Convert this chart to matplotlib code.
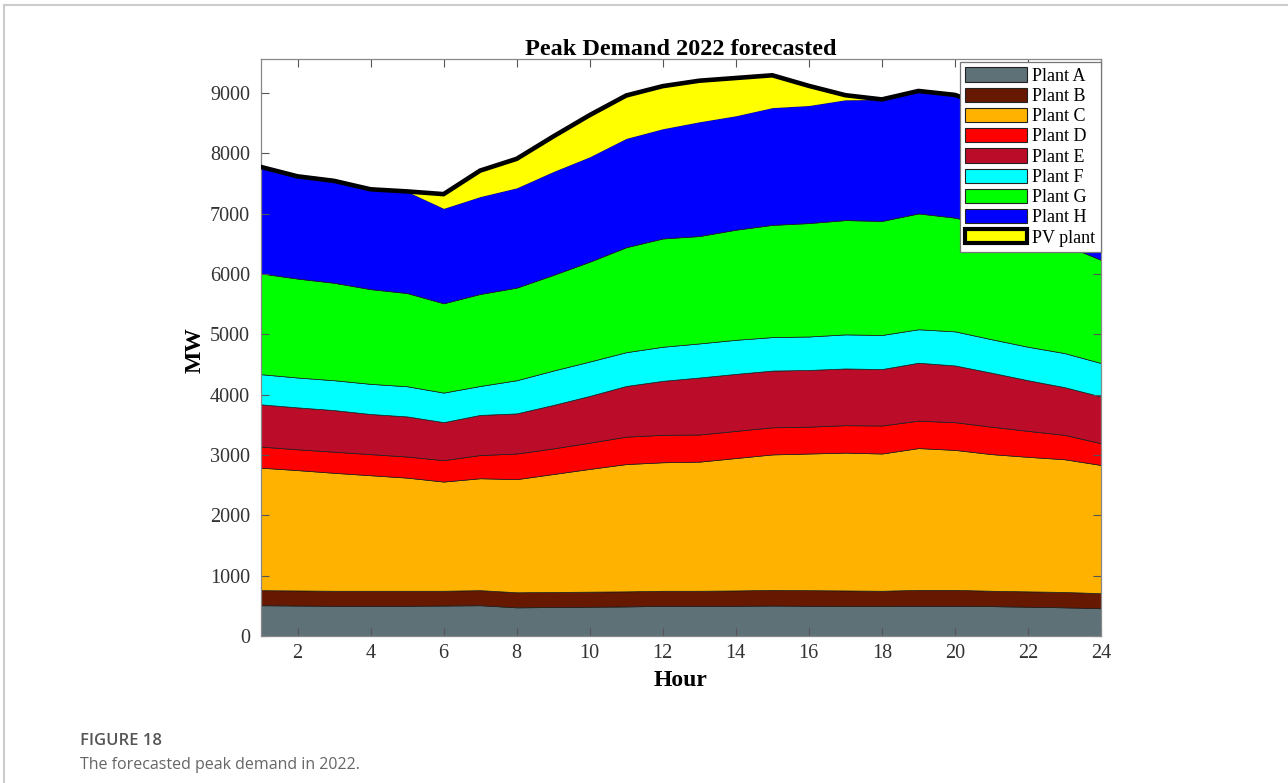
import matplotlib
matplotlib.use("Agg")
import matplotlib.pyplot as plt
from matplotlib.patches import Patch
from matplotlib.lines import Line2D
import numpy as np

hours = list(range(1, 25))
plant_a = [510,505,500,500,500,505,510,475,480,485,490,500,500,500,505,500,495,495,500,500,495,485,475,460]
plant_b = [250,250,250,250,250,245,250,250,250,250,250,250,250,255,260,260,260,255,265,265,255,255,255,250]
plant_c = [2030,1995,1955,1915,1875,1810,1855,1875,1955,2035,2110,2130,2140,2195,2245,2265,2285,2275,2350,2320,2265,2230,2200,2125]
plant_d = [350,345,350,350,350,355,385,425,425,435,455,455,450,450,450,445,455,465,455,460,455,430,405,360]
plant_e = [700,695,690,665,665,630,665,665,720,775,840,895,945,945,940,940,940,935,960,940,895,840,790,775]
plant_f = [500,495,495,500,500,490,480,550,570,570,560,565,565,565,555,555,565,565,555,565,555,555,565,555]
plant_g = [1670,1640,1615,1570,1545,1480,1525,1535,1585,1655,1740,1795,1780,1825,1860,1880,1895,1890,1920,1885,1880,1855,1795,1710]
plant_h = [1765,1695,1690,1655,1685,1575,1615,1655,1715,1740,1805,1820,1895,1890,1945,1950,1995,2015,2030,2035,1950,1800,1620,1470]
pv_plant = [0,0,0,0,0,235,430,480,580,690,710,705,680,625,535,325,75,0,0,0,0,0,0,0]

labels = ["Plant A", "Plant B", "Plant C", "Plant D", "Plant E", "Plant F", "Plant G", "Plant H", "PV plant"]
colors = ["#5e7176", "#661900", "#ffb300", "#ff0000", "#bb0d2a", "#00ffff", "#00ff00", "#0000ff", "#ffff00"]
series = [plant_a, plant_b, plant_c, plant_d, plant_e, plant_f, plant_g, plant_h, pv_plant]

plt.rcParams['font.family'] = ['Liberation Serif', 'DejaVu Serif']

fig = plt.figure(figsize=(12.88, 7.83), dpi=100)
ax = fig.add_axes([261/1288, 1 - 636/783, (1101-261)/1288, (636-59)/783])

polys = ax.stackplot(hours, *series, colors=colors, edgecolor="#1a1a1a", linewidth=0.5)
polys[-1].set_linewidth(0)
total = np.sum(np.array(series), axis=0)
ax.plot(hours, total, color="black", lw=3.3, solid_joinstyle="miter", zorder=5)

ax.set_xlim(1, 24)
ax.set_ylim(0, 9565)
ax.set_xticks(range(2, 25, 2))
ax.set_yticks(range(0, 9001, 1000))
ax.tick_params(direction="in", top=True, right=True, length=6, width=0.8,
               colors="#555555", labelcolor="#333333", labelsize=14.5)
ax.tick_params(axis="x", pad=6)
ax.tick_params(axis="y", pad=8)
for sp in ax.spines.values():
    sp.set_color("#888888")
    sp.set_linewidth(0.9)

ax.set_title("Peak Demand 2022 forecasted", fontsize=17.5, fontweight="bold", pad=3)
ax.set_xlabel("Hour", fontsize=17, fontweight="bold", va="center")
ax.set_ylabel("MW", fontsize=17, fontweight="bold", va="center")
ax.xaxis.set_label_coords((681-261)/840, (636-680)/577)
ax.yaxis.set_label_coords((195-261)/840, (636-350)/577)

handles = []
for lab, col in zip(labels, colors):
    if lab == "PV plant":
        handles.append(Patch(facecolor=col, edgecolor="black", linewidth=3, label=lab))
    else:
        handles.append(Patch(facecolor=col, edgecolor="#222222", linewidth=0.8, label=lab))
leg = ax.legend(handles=handles, loc="upper right", bbox_to_anchor=(1.0, 1.0 - 3/577),
                fontsize=13, frameon=True, fancybox=False, edgecolor="#777777", framealpha=1,
                handlelength=3.4, handleheight=0.83, labelspacing=0.16,
                handletextpad=0.33, borderpad=0.3, borderaxespad=0.0)
leg.get_frame().set_linewidth(0.9)

# page frame
fig.add_artist(Line2D([4/1288, 4/1288], [0, 1 - 5/783], transform=fig.transFigure, color="#cccccc", lw=1.5))
fig.add_artist(Line2D([4/1288, 1], [1 - 5/783, 1 - 5/783], transform=fig.transFigure, color="#cccccc", lw=1.5))

fig.text(80/1288, 1 - 741/783, "FIGURE 18", fontsize=12, color="#555555",
         family=["Open Sans", "DejaVu Sans"], fontweight="semibold", va="center", ha="left")
fig.text(80/1288, 1 - 765/783, "The forecasted peak demand in 2022.", fontsize=11.5, color="#666666",
         family=["Open Sans", "DejaVu Sans"], va="center", ha="left")

fig.savefig("out.png", dpi=100)
